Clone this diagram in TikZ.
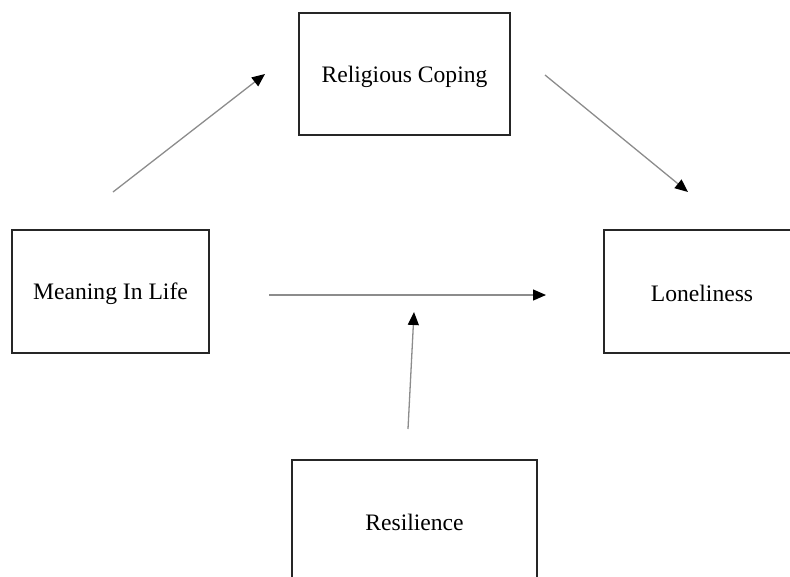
\documentclass[tikz,border=0pt]{standalone}
\usepackage{fontspec}
\setmainfont{Liberation Serif}
\usetikzlibrary{arrows.meta}
\begin{document}
\begin{tikzpicture}[x=1pt,y=-1pt,
  box/.style={draw=black!85, line width=2pt, minimum width=#1, inner sep=0pt, font=\fontsize{23.6}{27}\selectfont},
  conn/.style={draw=black!45, line width=1.3pt, -{Triangle[length=13pt,width=11pt,color=black]}}]
\useasboundingbox (0,0) rectangle (790,576);
\clip (0,0) rectangle (790,576);
\node[box=211pt, minimum height=122pt] (rc) at (404.5,74) {};
\node[font=\fontsize{23.6}{27}\selectfont] (rct) at (404.5,77) {Religious Coping};
\node[box=197pt, minimum height=123pt] (mil) at (110.5,291.5) {};
\node[font=\fontsize{23.6}{27}\selectfont] (milt) at (110.5,294) {Meaning In Life};
\node[box=196pt, minimum height=123pt] (lon) at (702,291.5) {};
\node[font=\fontsize{23.6}{27}\selectfont] (lont) at (702,293.5) {Loneliness};
\node[box=245pt, minimum height=122pt] (res) at (414.5,521) {};
\node[font=\fontsize{23.6}{27}\selectfont] (rest) at (414.5,522.5) {Resilience};
\coordinate (a1s) at (113,192);
\coordinate (a1e) at (265,74);
\coordinate (a2s) at (545,75);
\coordinate (a2e) at (688,192);
\coordinate (a3s) at (269,295);
\coordinate (a3e) at (546,295);
\coordinate (a4s) at (408,429);
\coordinate (a4e) at (414,312);
\draw[conn] (a1s) -- (a1e);
\draw[conn] (a2s) -- (a2e);
\draw[conn] (a3s) -- (a3e);
\draw[conn] (a4s) -- (a4e);
\end{tikzpicture}
\end{document}
